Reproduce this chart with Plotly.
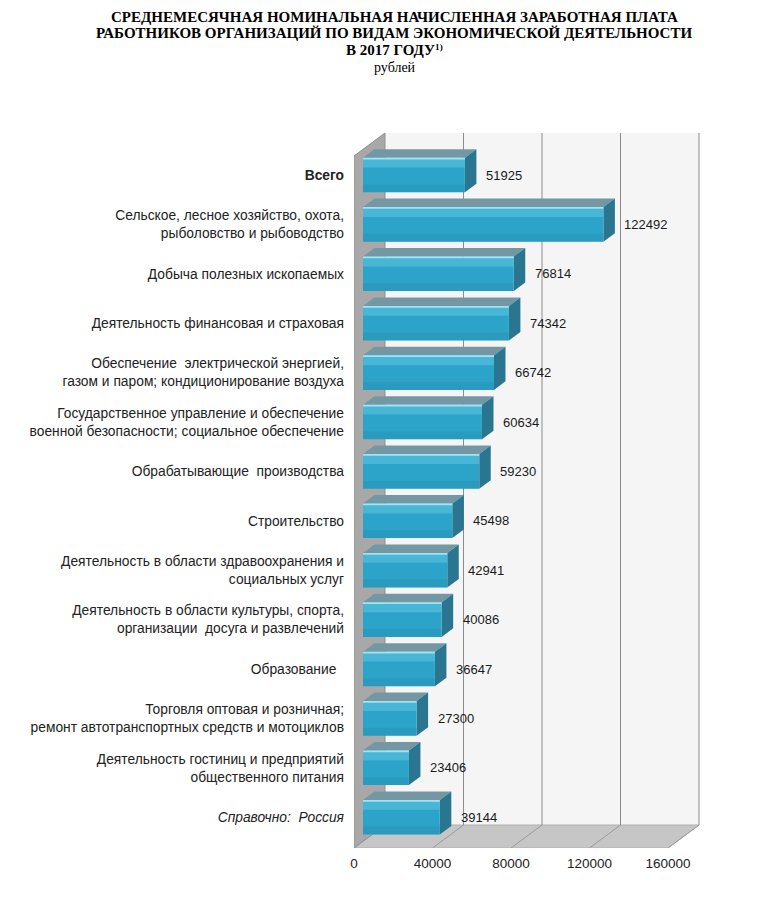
import plotly.graph_objects as go

# données : salaire nominal moyen mensuel, 2017, roubles
categories = [
    "<b>Всего</b>",
    "Сельское, лесное хозяйство, охота,<br>рыболовство и рыбоводство",
    "Добыча полезных ископаемых",
    "Деятельность финансовая и страховая",
    "Обеспечение  электрической энергией,<br>газом и паром; кондиционирование воздуха",
    "Государственное управление и обеспечение<br>военной безопасности; социальное обеспечение",
    "Обрабатывающие  производства",
    "Строительство",
    "Деятельность в области здравоохранения и<br>социальных услуг",
    "Деятельность в области культуры, спорта,<br>организации  досуга и развлечений",
    "Образование\u00a0\u00a0",
    "Торговля оптовая и розничная;<br>ремонт автотранспортных средств и мотоциклов",
    "Деятельность гостиниц и предприятий<br>общественного питания",
    "<i>Справочно:  Россия</i>",
]
values = [51925, 122492, 76814, 74342, 66742, 60634, 59230,
          45498, 42941, 40086, 36647, 27300, 23406, 39144]
x_ticks = [0, 40000, 80000, 120000, 160000]
x_ticktext = ["0", "40000", "80000", "120000", "160000"]

title_lines = [
    "СРЕДНЕМЕСЯЧНАЯ НОМИНАЛЬНАЯ НАЧИСЛЕННАЯ ЗАРАБОТНАЯ ПЛАТА",
    "РАБОТНИКОВ ОРГАНИЗАЦИЙ ПО ВИДАМ ЭКОНОМИЧЕСКОЙ ДЕЯТЕЛЬНОСТИ",
    "В 2017 ГОДУ<span style='font-size:13px'><sup>1)</sup></span>",
]
unit_text = "рублей"

# géométrie en pixels de la page ; la page ajoute une marge de 8 px au corps
PAGE_PAD = 8
W, H = 743, 884
PLOT_L, PLOT_R, PLOT_T, PLOT_B = 354, 712, 120, 848
X0_PX = 363          # zéro de l'axe sur la face avant des barres
PX_PER_40K = 78.5
Y0_PX, ROW_PX = 175, 49.4
SX = 40000 / PX_PER_40K   # unités par pixel

# profondeur 3D (du plan avant au plan arrière)
DEPTH_X, DEPTH_Y = 31, 23
D_FRONT, D_BACK, D_BAR = -9 / 31, 22 / 31, 11.5 / 31
BAR_W = 0.70

y_pos = list(range(len(values)))


def proj(v, lvl, d):
    """Projette un point (valeur, niveau, profondeur) en coordonnées de l'axe."""
    return v + d * DEPTH_X * SX, lvl - d * DEPTH_Y / ROW_PX


def path(points):
    return "M " + " L ".join(f"{x:.2f},{y:.4f}" for x, y in points) + " Z"


y_bottom = (PLOT_B - Y0_PX) / ROW_PX
y_top = (PLOT_T - Y0_PX) / ROW_PX
floor_lvl = y_bottom + D_FRONT * DEPTH_Y / ROW_PX
top_lvl = (133 - Y0_PX) / ROW_PX + D_BACK * DEPTH_Y / ROW_PX
x_max = x_ticks[-1]

shapes = []
# mur du fond
shapes.append(dict(type="path", path=path([
    proj(0, top_lvl, D_BACK), proj(x_max, top_lvl, D_BACK),
    proj(x_max, floor_lvl, D_BACK), proj(0, floor_lvl, D_BACK)]),
    fillcolor="#f5f5f5", line=dict(width=0), layer="below"))
# sol
shapes.append(dict(type="path", path=path([
    proj(0, floor_lvl, D_FRONT), proj(x_max, floor_lvl, D_FRONT),
    proj(x_max, floor_lvl, D_BACK), proj(0, floor_lvl, D_BACK)]),
    fillcolor="#c6c6c6", line=dict(color="#b0b0b0", width=1), layer="below"))
# mur gauche
shapes.append(dict(type="path", path=path([
    proj(0, top_lvl, D_FRONT), proj(0, top_lvl, D_BACK),
    proj(0, floor_lvl, D_BACK), proj(0, floor_lvl, D_FRONT)]),
    fillcolor="#a8a8a8", line=dict(color="#8f8f8f", width=1), layer="below"))
# quadrillage
for t in x_ticks[1:]:
    xa, ya = proj(t, top_lvl, D_BACK)
    xb, yb = proj(t, floor_lvl, D_BACK)
    xc, yc = proj(t, floor_lvl, D_FRONT)
    shapes.append(dict(type="line", x0=xa, y0=ya, x1=xb, y1=yb,
                       line=dict(color="#8c8c8c", width=1), layer="below"))
    shapes.append(dict(type="line", x0=xb, y0=yb, x1=xc, y1=yc,
                       line=dict(color="#9a9a9a", width=1), layer="below"))
# faces supérieures et latérales des barres
for i, v in zip(y_pos, values):
    top = i - BAR_W / 2
    bot = i + BAR_W / 2
    shapes.append(dict(type="path", path=path([
        proj(0, top, 0), proj(v, top, 0), proj(v, top, D_BAR), proj(0, top, D_BAR)]),
        fillcolor="#7398a4", line=dict(width=0), layer="below"))
    shapes.append(dict(type="path", path=path([
        proj(v, top, 0), proj(v, top, D_BAR), proj(v, bot, D_BAR), proj(v, bot, 0)]),
        fillcolor="#2a7690", line=dict(width=0), layer="below"))

fig = go.Figure()
fig.add_trace(go.Bar(x=values, y=y_pos, orientation="h", width=BAR_W,
                     marker=dict(color="#2ca4c9", line=dict(width=0)),
                     hoverinfo="x"))
# reflets pour imiter le dégradé de la face avant
fig.add_trace(go.Bar(x=values, y=y_pos, orientation="h", width=0.2,
                     offset=-BAR_W / 2,
                     marker=dict(color="rgba(100,200,228,0.5)", line=dict(width=0)),
                     hoverinfo="skip"))
fig.add_trace(go.Bar(x=values, y=y_pos, orientation="h", width=0.035,
                     offset=-BAR_W / 2,
                     marker=dict(color="rgba(175,230,242,0.9)", line=dict(width=0)),
                     hoverinfo="skip"))
fig.add_trace(go.Bar(x=values, y=y_pos, orientation="h", width=0.16,
                     offset=BAR_W / 2 - 0.16,
                     marker=dict(color="rgba(30,115,150,0.18)", line=dict(width=0)),
                     hoverinfo="skip"))

annotations = []
for i, v in zip(y_pos, values):
    annotations.append(dict(x=v, y=i, text=str(v), xanchor="left", yanchor="middle",
                            xshift=19, showarrow=False,
                            font=dict(family="Liberation Sans", size=13, color="#1a1a1a")))


def paper_x(px):
    return (px - PLOT_L) / (PLOT_R - PLOT_L)


def paper_y(py):
    return (PLOT_B - py) / (PLOT_B - PLOT_T)


for text, py in zip(title_lines, [16.5, 33.5, 50.5]):
    annotations.append(dict(xref="paper", yref="paper", x=paper_x(394), y=paper_y(py),
                            text=f"<b>{text}</b>", showarrow=False,
                            xanchor="center", yanchor="middle",
                            font=dict(family="Liberation Serif", size=15, color="#000000")))
annotations.append(dict(xref="paper", yref="paper", x=paper_x(395), y=paper_y(67.5),
                        text=unit_text, showarrow=False, xanchor="center", yanchor="middle",
                        font=dict(family="Liberation Serif", size=14, color="#000000")))

fig.update_layout(
    width=W, height=H,
    margin=dict(l=PLOT_L - PAGE_PAD, r=W - (PLOT_R - PAGE_PAD),
                t=PLOT_T - PAGE_PAD, b=H - (PLOT_B - PAGE_PAD), autoexpand=False),
    paper_bgcolor="white", plot_bgcolor="rgba(0,0,0,0)",
    barmode="overlay", showlegend=False,
    shapes=shapes, annotations=annotations,
    font=dict(family="Liberation Sans", size=13, color="#222222"),
    xaxis=dict(range=[(PLOT_L - X0_PX) * SX, (PLOT_R - X0_PX) * SX],
               tickvals=x_ticks, ticktext=x_ticktext, ticks="",
               ticklabelshift=-9, ticklabelstandoff=5,
               showgrid=False, zeroline=False, showline=False, automargin=False,
               tickfont=dict(family="Liberation Sans", size=13.5, color="#222222")),
    yaxis=dict(range=[y_bottom, y_top], tickvals=y_pos, ticktext=categories,
               ticks="", ticklabelstandoff=9,
               showgrid=False, zeroline=False, showline=False, automargin=False,
               tickfont=dict(family="Liberation Sans", size=13.8, color="#222222")),
)

fig.write_html("out.html")
